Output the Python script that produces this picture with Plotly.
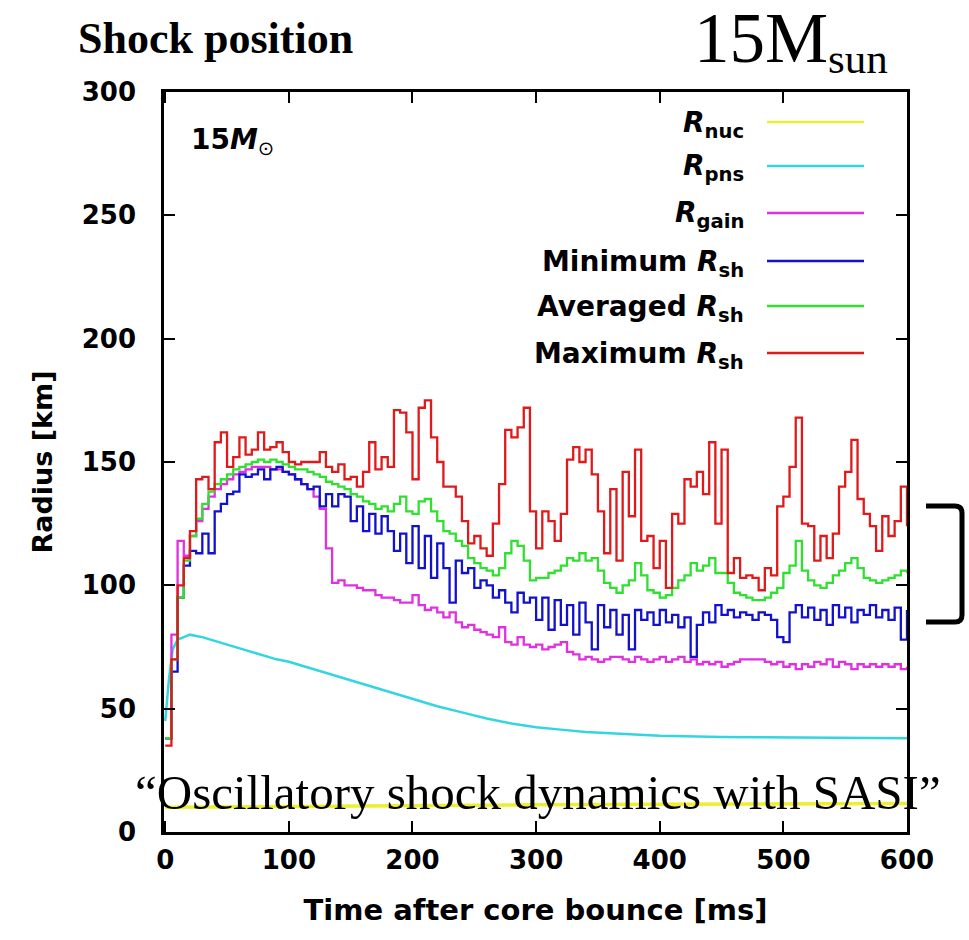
import plotly.graph_objects as go

# ---------------- data ----------------
time_ms = list(range(0, 601, 5))

r_max = [35, 70, 100, 111, 122, 143, 144, 139, 158, 162,
         148, 152, 160, 153, 155, 162, 155, 156, 158, 154,
         150, 149, 150, 150, 150, 154, 148, 146, 149, 143,
         144, 140, 146, 158, 147, 152, 148, 171, 170, 162,
         143, 172, 175, 160, 150, 140, 140, 136, 126, 117,
         120, 115, 112, 125, 141, 163, 160, 164, 172, 130,
         115, 130, 126, 118, 129, 151, 156, 150, 155, 145,
         130, 113, 139, 110, 146, 128, 155, 118, 120, 107,
         118, 99, 129, 125, 143, 140, 146, 137, 158, 125,
         155, 105, 111, 103, 104, 103, 98, 107, 104, 132,
         136, 148, 168, 125, 124, 110, 120, 111, 121, 140,
         146, 159, 135, 129, 124, 114, 128, 120, 126, 140,
         124]

r_avg = [38, 70, 95, 110, 120, 127, 133, 138, 141, 143,
         145, 147, 148, 149, 150, 151, 150, 151, 150, 149,
         148, 147, 147, 146, 145, 144, 142, 141, 140, 139,
         137, 136, 134, 133, 131, 132, 130, 133, 136, 130,
         129, 134, 135, 130, 126, 122, 121, 118, 116, 111,
         109, 107, 106, 104, 107, 113, 118, 116, 110, 102,
         103, 103, 105, 106, 108, 111, 110, 113, 110, 111,
         106, 101, 99, 97, 100, 102, 109, 104, 98, 97,
         95, 96, 99, 102, 104, 109, 106, 108, 111, 105,
         105, 101, 97, 96, 95, 94, 94, 95, 97, 99,
         105, 108, 118, 106, 102, 100, 99, 101, 104, 106,
         109, 111, 107, 103, 102, 101, 102, 103, 104, 106,
         105]

r_min = [38, 65, 95, 108, 114, 113, 121, 113, 130, 133,
         137, 138, 145, 144, 145, 147, 143, 147, 148, 146,
         145, 143, 141, 139, 140, 132, 137, 132, 137, 136,
         126, 132, 122, 129, 121, 128, 122, 114, 121, 109,
         124, 107, 120, 103, 117, 107, 93, 110, 105, 107,
         99, 102, 100, 95, 98, 93, 89, 97, 93, 95,
         86, 95, 82, 94, 84, 92, 80, 93, 85, 74,
         92, 83, 90, 80, 88, 74, 90, 86, 89, 84,
         90, 85, 88, 83, 87, 71, 84, 89, 85, 92,
         88, 90, 87, 89, 88, 86, 89, 88, 86, 79,
         77, 89, 92, 87, 91, 86, 90, 84, 92, 87,
         91, 85, 90, 88, 92, 87, 90, 86, 91, 78,
         90]

r_gain = [38, 80, 118, 112, 120, 126, 131, 136, 139, 141,
          143, 145, 146, 147, 148, 148, 148, 147, 147, 146,
          145, 143, 141, 139, 136, 131, 115, 101, 102, 100,
          100, 99, 98, 98, 96, 95, 95, 94, 93, 93,
          96, 92, 90, 91, 89, 87, 89, 85, 83, 84,
          82, 81, 80, 79, 83, 77, 76, 79, 76, 75,
          76, 74, 75, 76, 77, 73, 72, 70, 71, 70,
          69, 70, 71, 71, 70, 69, 71, 70, 69, 70,
          71, 69, 70, 71, 69, 70, 68, 69, 68, 69,
          67, 68, 69, 70, 70, 70, 70, 69, 68, 69,
          67, 68, 66, 68, 67, 69, 68, 70, 67, 69,
          68, 66, 68, 67, 68, 67, 68, 67, 68, 66,
          67]

pns_t = [0, 3, 6, 10, 15, 20, 25, 30, 40, 50, 60, 70, 80, 90, 100, 120, 140, 160,
         180, 200, 220, 240, 260, 280, 300, 320, 340, 360, 380, 400, 450, 500, 550, 600]
r_pns = [45, 62, 74, 78, 79, 80, 79.5, 79, 77.5, 76, 74.5, 73, 71.5, 70, 69, 66, 63, 60,
         57, 54, 51, 48.5, 46, 44, 42.5, 41.5, 40.5, 40, 39.5, 39, 38.5, 38.3, 38, 38]

nuc_t = [0, 100, 200, 300, 400, 500, 600]
r_nuc = [10, 10.4, 10.7, 11, 11.2, 11.4, 11.6]

x_ticks = [0, 100, 200, 300, 400, 500, 600]
y_ticks = [0, 50, 100, 150, 200, 250, 300]

legend_labels = ["<i>R</i><sub>nuc</sub>", "<i>R</i><sub>pns</sub>", "<i>R</i><sub>gain</sub>",
                 "Minimum <i>R</i><sub>sh</sub>", "Averaged <i>R</i><sub>sh</sub>",
                 "Maximum <i>R</i><sub>sh</sub>"]

# ---------------- styling ----------------
C_NUC, C_PNS, C_GAIN = "#eeee30", "#33d6e0", "#e030e0"
C_MIN, C_AVG, C_MAX = "#1212cc", "#30e030", "#e01a1a"
colors = [C_NUC, C_PNS, C_GAIN, C_MIN, C_AVG, C_MAX]

W, H = 969, 940
ML, MR, MT, MB = 164, 62, 92, 108
PW, PH = W - ML - MR, H - MT - MB


def px(x):
    return (x - ML) / PW


def py(y):
    return (H - MB - y) / PH


fig = go.Figure()
fig.add_trace(go.Scatter(x=nuc_t, y=r_nuc, mode="lines", line=dict(color=C_NUC, width=3.5), name="R_nuc"))
fig.add_trace(go.Scatter(x=pns_t, y=r_pns, mode="lines", line=dict(color=C_PNS, width=2.5), name="R_pns"))
fig.add_trace(go.Scatter(x=time_ms, y=r_gain, mode="lines", line=dict(color=C_GAIN, width=2.3, shape="hv"), name="R_gain"))
fig.add_trace(go.Scatter(x=time_ms, y=r_min, mode="lines", line=dict(color=C_MIN, width=2.3, shape="hv"), name="Min"))
fig.add_trace(go.Scatter(x=time_ms, y=r_avg, mode="lines", line=dict(color=C_AVG, width=2.3, shape="hv"), name="Avg"))
fig.add_trace(go.Scatter(x=time_ms, y=r_max, mode="lines", line=dict(color=C_MAX, width=2.3, shape="hv"), name="Max"))

TICKFONT = dict(family="DejaVu Sans", size=26, color="black", weight="bold")

fig.update_layout(
    width=W, height=H,
    margin=dict(l=ML, r=MR, t=MT, b=MB),
    paper_bgcolor="white", plot_bgcolor="white",
    showlegend=False,
    xaxis=dict(range=[-1, 600], tickvals=x_ticks, ticks="inside", ticklen=11, tickwidth=2,
               tickcolor="black", showline=True, linecolor="black", linewidth=2.5, mirror="ticks",
               showgrid=False, zeroline=False, tickfont=TICKFONT, ticklabelstandoff=3,
               title=dict(text="Time after core bounce [ms]",
                          font=dict(family="DejaVu Sans", size=29, color="black", weight="bold"),
                          standoff=26)),
    yaxis=dict(range=[0, 300], tickvals=y_ticks, ticks="inside", ticklen=11, tickwidth=2,
               tickcolor="black", showline=True, linecolor="black", linewidth=2.5, mirror="ticks",
               showgrid=False, zeroline=False, tickfont=TICKFONT, ticklabelstandoff=20,
               title=dict(text="Radius [km]",
                          font=dict(family="DejaVu Sans", size=27, color="black", weight="bold"),
                          standoff=22)),
)

ann = []
# titles outside plot
ann.append(dict(x=px(215), y=py(38), xref="paper", yref="paper", text="<b>Shock position</b>",
                showarrow=False, xanchor="center", yanchor="middle",
                font=dict(family="Liberation Serif", size=44, color="black")))
ann.append(dict(x=px(830), y=py(38), xref="paper", yref="paper", text="15M",
                showarrow=False, xanchor="right", yanchor="middle",
                font=dict(family="Liberation Serif", size=71, color="black")))
ann.append(dict(x=px(826), y=py(58), xref="paper", yref="paper", text="sun",
                showarrow=False, xanchor="left", yanchor="middle",
                font=dict(family="Liberation Serif", size=43, color="black")))
# inner label
ann.append(dict(x=px(189), y=py(141), xref="paper", yref="paper",
                text="<b>15<i>M</i></b><sub>⊙</sub>",
                showarrow=False, xanchor="left", yanchor="middle",
                font=dict(family="DejaVu Sans", size=28, color="black")))
# legend
row_y = [122, 166, 213, 261, 306, 353]
for lab, yy, col in zip(legend_labels, row_y, colors):
    ann.append(dict(x=px(746), y=py(yy + 2), xref="paper", yref="paper", text=lab,
                    showarrow=False, xanchor="right", yanchor="middle",
                    font=dict(family="DejaVu Sans", size=28, color="black", weight="bold")))
# overlay sentence
ann.append(dict(x=px(538), y=py(792), xref="paper", yref="paper",
                text="“Oscillatory shock dynamics with SASI”",
                showarrow=False, xanchor="center", yanchor="middle",
                font=dict(family="Liberation Serif", size=49, color="black")))
fig.update_layout(annotations=ann)

shapes = []
for yy, col in zip(row_y, colors):
    shapes.append(dict(type="line", xref="paper", yref="paper", x0=px(767), x1=px(864),
                       y0=py(yy), y1=py(yy), line=dict(color=col, width=2.5)))
# bracket on the right
bx0, bx1, by0, by1 = 926, 962, 506, 622
path = (f"M {px(bx0)},{py(by0)} L {px(bx1 - 7)},{py(by0)} Q {px(bx1)},{py(by0)} {px(bx1)},{py(by0 + 7)} "
        f"L {px(bx1)},{py(by1 - 7)} Q {px(bx1)},{py(by1)} {px(bx1 - 7)},{py(by1)} L {px(bx0)},{py(by1)}")
shapes.append(dict(type="path", xref="paper", yref="paper", path=path,
                   line=dict(color="black", width=5)))
fig.update_layout(shapes=shapes)

fig.write_html("out.html")
